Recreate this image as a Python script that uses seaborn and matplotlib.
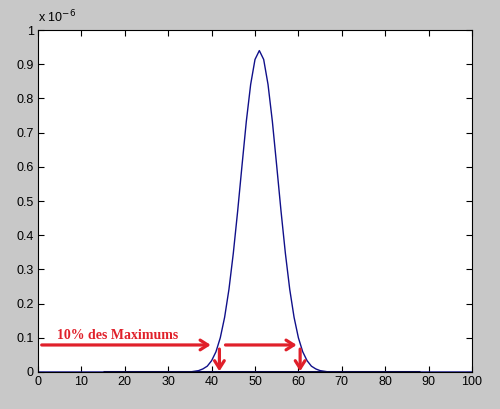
import matplotlib

matplotlib.use("Agg")

import matplotlib.pyplot as plt
import pandas as pd
import seaborn as sns

# curve sampled at integer x, values in units of 1e-6
x_start = 0
rise_start = 36
peak_values = [
    0.002, 0.004, 0.009, 0.017, 0.033, 0.059, 0.100, 0.160, 0.242, 0.347,
    0.470, 0.603, 0.733, 0.841, 0.914, 0.940, 0.914, 0.841, 0.733, 0.603,
    0.470, 0.347, 0.242, 0.160, 0.100, 0.059, 0.033, 0.017, 0.009, 0.004,
    0.002,
]
x_end = 100
# darker overlay segment along zero
flat_x = [15, 88]
flat_y = [0.0, 0.0]

x_ticks = [0, 10, 20, 30, 40, 50, 60, 70, 80, 90, 100]
y_ticks = [0, 0.1, 0.2, 0.3, 0.4, 0.5, 0.6, 0.7, 0.8, 0.9, 1]
y_tick_labels = ["0", "0.1", "0.2", "0.3", "0.4", "0.5", "0.6", "0.7", "0.8", "0.9", "1"]

level_y = 0.079
left_cross = 41.8
right_cross = 60.4
label_text = "10% des Maximums"

rise_end = rise_start + len(peak_values)
x_vals = list(range(x_start, x_end + 1))
y_vals = [0.0] * (rise_start - x_start) + peak_values + [0.0] * (x_end + 1 - rise_end)
df = pd.DataFrame({"x": x_vals, "y": y_vals})

fig = plt.figure(figsize=(5.0, 4.09), dpi=100, facecolor="#c8c8c8")
ax = fig.add_axes([0.076, 0.0905, 0.868, 0.836])
ax.set_facecolor("white")

sns.lineplot(data=df, x="x", y="y", ax=ax, color="#10108a", linewidth=1.0)
ax.plot(flat_x, flat_y, color="#0c0c50", linewidth=2.2, solid_capstyle="butt")

ax.set_xlim(0, 100)
ax.set_ylim(0, 1)
ax.set_xticks(x_ticks)
ax.set_yticks(y_ticks)
ax.set_yticklabels(y_tick_labels)
ax.set_xlabel("")
ax.set_ylabel("")
ax.tick_params(direction="in", top=True, right=True, length=4, width=0.8,
               labelsize=9, pad=3)
for lab in ax.get_xticklabels() + ax.get_yticklabels():
    lab.set_fontfamily("Liberation Sans")
for side in ax.spines.values():
    side.set_linewidth(0.8)
    side.set_color("black")

ax.text(0.0, 1.015, r"x 10$^{-6}$", transform=ax.transAxes, fontsize=9,
        family="Liberation Sans", ha="left", va="bottom")

red = "#e0202a"
arrow = dict(arrowstyle="->,head_length=0.55,head_width=0.35", color=red,
             lw=2.3, shrinkA=0, shrinkB=0)
ax.annotate("", xy=(39.8, level_y), xytext=(0.85, level_y), arrowprops=arrow)
ax.annotate("", xy=(59.6, level_y), xytext=(43.2, level_y), arrowprops=arrow)
ax.annotate("", xy=(left_cross, 0.002), xytext=(left_cross, 0.067), arrowprops=arrow)
ax.annotate("", xy=(right_cross, 0.002), xytext=(right_cross, 0.067), arrowprops=arrow)

ax.text(4.3, 0.108, label_text, color=red, fontsize=10, fontweight="bold",
        family="Liberation Serif", ha="left", va="center")

fig.savefig("out.png", dpi=100, facecolor=fig.get_facecolor())
